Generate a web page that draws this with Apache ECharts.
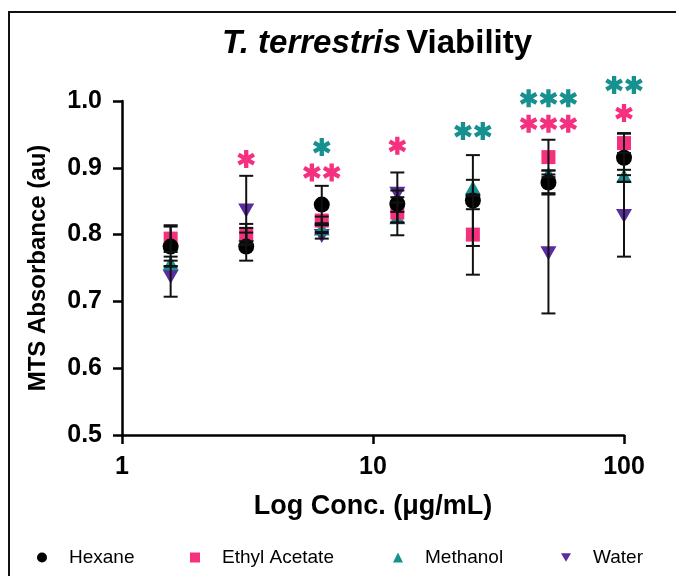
<!DOCTYPE html>
<html>
<head>
<meta charset="utf-8">
<script src="https://cdn.jsdelivr.net/npm/echarts@6/dist/echarts.min.js"></script>
<style>
html,body{margin:0;padding:0;background:#fff;}
#chart{width:676px;height:576px;}
</style>
</head>
<body>
<div id="chart"></div>
<script>
// ---- data ----
const conc = [1.5625, 3.125, 6.25, 12.5, 25, 50, 100];
const hexaneMean   = [0.782, 0.782, 0.845, 0.846, 0.851, 0.878, 0.915];
const hexaneErr    = [0.030, 0.021, 0.028, 0.047, 0.068, 0.018, 0.036];
const ethylMean    = [0.794, 0.801, 0.821, 0.833, 0.800, 0.916, 0.937];
const ethylErr     = [0.020, 0.015, 0.006, 0.015, 0.060, 0.026, 0.015];
const methanolMean = [0.757, 0.800, 0.809, 0.826, 0.870, 0.891, 0.888];
const methanolErr  = [0.004, 0.010, 0.005, 0.008, 0.012, 0.005, 0.009];
const waterMean    = [0.737, 0.836, 0.798, 0.861, 0.848, 0.772, 0.828];
const waterErr     = [0.030, 0.052, 0.004, 0.005, 0.010, 0.090, 0.061];
// significance marks: [conc, y position, number of asterisks]
const starsMethanol = [[6.25, 0.931, 1], [25, 0.955, 2], [50, 1.004, 3], [100, 1.024, 2]];
const starsEthyl    = [[3.125, 0.913, 1], [6.25, 0.893, 2], [12.5, 0.933, 1], [50, 0.966, 3], [100, 0.982, 1]];
const yTicks = [0.5, 0.6, 0.7, 0.8, 0.9, 1.0];
const xTicks = [1, 10, 100];

const FONT = '"Liberation Sans", Arial, sans-serif';
const C_HEX = '#000000', C_ETH = '#f5317f', C_MET = '#17918f', C_WAT = '#5b2c9f';
const downTri = 'path://M0,0L10,0L5,8.7Z';

// asterisk path builder (6 arms)
const ARM_W = 0.12, SPACING = 1.1;
function starPath(n) {
  const L = 0.5;
  let d = '';
  for (let k = 0; k < n; k++) {
    const cx = k * SPACING, cy = 0;
    [90, 30, 150].forEach(a => {
      const t = a * Math.PI / 180;
      const dx = Math.cos(t), dy = Math.sin(t);
      const nx = -dy, ny = dx;
      const pts = [
        [cx + L*dx + ARM_W*nx, cy + L*dy + ARM_W*ny],
        [cx - L*dx + ARM_W*nx, cy - L*dy + ARM_W*ny],
        [cx - L*dx - ARM_W*nx, cy - L*dy - ARM_W*ny],
        [cx + L*dx - ARM_W*nx, cy + L*dy - ARM_W*ny]
      ];
      d += 'M' + pts.map(p => p[0].toFixed(4) + ',' + p[1].toFixed(4)).join('L') + 'Z';
    });
  }
  return 'path://' + d;
}
const STAR_PX = 18;
function starSize(n) {
  const w = (n - 1) * SPACING + 2 * (0.5 * Math.cos(Math.PI / 6) + ARM_W * Math.sin(Math.PI / 6));
  return [w * STAR_PX, STAR_PX];
}

function errData(mean, err) {
  return conc.map((c, i) => [c, mean[i] - err[i], mean[i] + err[i]]);
}
function renderErr(params, api) {
  const x = api.value(0), lo = api.value(1), hi = api.value(2);
  const p1 = api.coord([x, lo]), p2 = api.coord([x, hi]);
  const cw = 7;
  const st = { stroke: '#111', lineWidth: 2 };
  return {
    type: 'group',
    children: [
      { type: 'line', shape: { x1: p1[0], y1: p1[1], x2: p2[0], y2: p2[1] }, style: st },
      { type: 'line', shape: { x1: p1[0] - cw, y1: p1[1], x2: p1[0] + cw, y2: p1[1] }, style: st },
      { type: 'line', shape: { x1: p2[0] - cw, y1: p2[1], x2: p2[0] + cw, y2: p2[1] }, style: st }
    ]
  };
}
function pts(mean) { return conc.map((c, i) => [c, mean[i]]); }

const chart = echarts.init(document.getElementById('chart'), null, { renderer: 'canvas' });

const legendBase = (name, icon, left) => ({
  data: [{ name: name, icon: icon }],
  left: left, top: 548, padding: 0,
  itemWidth: 10, itemHeight: 10,
  selectedMode: false,
  textStyle: { fontSize: 19, fontFamily: FONT, color: '#000', padding: [0, 0, 0, 17] }
});

const option = {
  animation: false,
  backgroundColor: '#fff',
  title: {
    text: '{i|T. terrestris} {b|Viability}',
    left: 222, top: 27, padding: 0,
    textStyle: {
      rich: {
        i: { fontSize: 33, fontWeight: 'bold', fontStyle: 'italic', fontFamily: FONT, color: '#000' },
        b: { fontSize: 33, fontWeight: 'bold', fontFamily: FONT, color: '#000' }
      }
    }
  },
  graphic: [{
    type: 'rect', shape: { x: 9, y: 12, width: 700, height: 600 },
    style: { fill: 'none', stroke: '#111', lineWidth: 2 }, z: 0, silent: true
  }],
  legend: [
    legendBase('Hexane', 'circle', 37),
    legendBase('Ethyl Acetate', 'rect', 190),
    legendBase('Methanol', 'triangle', 393),
    legendBase('Water', downTri, 561)
  ],
  grid: { left: 122, right: 52, top: 101, bottom: 141, containLabel: false },
  xAxis: {
    type: 'log', logBase: 10, min: xTicks[0], max: xTicks[xTicks.length - 1],
    name: 'Log Conc. (\u03bcg/mL)', nameLocation: 'middle', nameGap: 58,
    nameTextStyle: { fontSize: 27, fontWeight: 'bold', fontFamily: FONT, color: '#000' },
    axisLine: { lineStyle: { color: '#000', width: 2.5 } },
    axisTick: { show: true, inside: false, length: 9, lineStyle: { color: '#000', width: 2.5 } },
    minorTick: { show: false },
    splitLine: { show: false },
    axisLabel: { fontSize: 25, fontWeight: 'bold', fontFamily: FONT, color: '#000', margin: 20,
      formatter: v => String(v) }
  },
  yAxis: {
    type: 'value', min: yTicks[0], max: yTicks[yTicks.length - 1], interval: 0.1,
    name: 'MTS Absorbance (au)', nameLocation: 'middle', nameGap: 72, nameRotate: 90,
    nameTextStyle: { fontSize: 24, fontWeight: 'bold', fontFamily: FONT, color: '#000' },
    axisLine: { show: true, lineStyle: { color: '#000', width: 2.5 } },
    axisTick: { show: true, inside: false, length: 9, lineStyle: { color: '#000', width: 2.5 } },
    splitLine: { show: false },
    axisLabel: { fontSize: 25, fontWeight: 'bold', fontFamily: FONT, color: '#000', margin: 20,
      formatter: v => v.toFixed(1) }
  },
  series: [
    { name: 'Water', type: 'scatter', data: pts(waterMean), symbol: downTri, symbolSize: [16, 14],
      itemStyle: { color: C_WAT, opacity: 1 }, z: 2 },
    { name: 'Methanol', type: 'scatter', data: pts(methanolMean), symbol: 'triangle', symbolSize: [16, 14],
      itemStyle: { color: C_MET, opacity: 1 }, z: 2 },
    { name: 'Ethyl Acetate', type: 'scatter', data: pts(ethylMean), symbol: 'rect', symbolSize: 14,
      itemStyle: { color: C_ETH, opacity: 1 }, z: 2 },
    { name: 'Hexane', type: 'scatter', data: pts(hexaneMean), symbol: 'circle', symbolSize: 16,
      itemStyle: { color: C_HEX, opacity: 1 }, z: 2 },
    { type: 'custom', name: 'errWater', data: errData(waterMean, waterErr), renderItem: renderErr, z: 3, silent: true },
    { type: 'custom', name: 'errMethanol', data: errData(methanolMean, methanolErr), renderItem: renderErr, z: 3, silent: true },
    { type: 'custom', name: 'errEthyl', data: errData(ethylMean, ethylErr), renderItem: renderErr, z: 3, silent: true },
    { type: 'custom', name: 'errHexane', data: errData(hexaneMean, hexaneErr), renderItem: renderErr, z: 3, silent: true },
    { type: 'scatter', name: 'starsM', data: starsMethanol, clip: false, z: 4, silent: true,
      symbol: v => starPath(v[2]), symbolSize: v => starSize(v[2]),
      itemStyle: { color: C_MET, opacity: 1 } },
    { type: 'scatter', name: 'starsE', data: starsEthyl, clip: false, z: 4, silent: true,
      symbol: v => starPath(v[2]), symbolSize: v => starSize(v[2]),
      itemStyle: { color: C_ETH, opacity: 1 } }
  ]
};
chart.setOption(option);
</script>
</body>
</html>
